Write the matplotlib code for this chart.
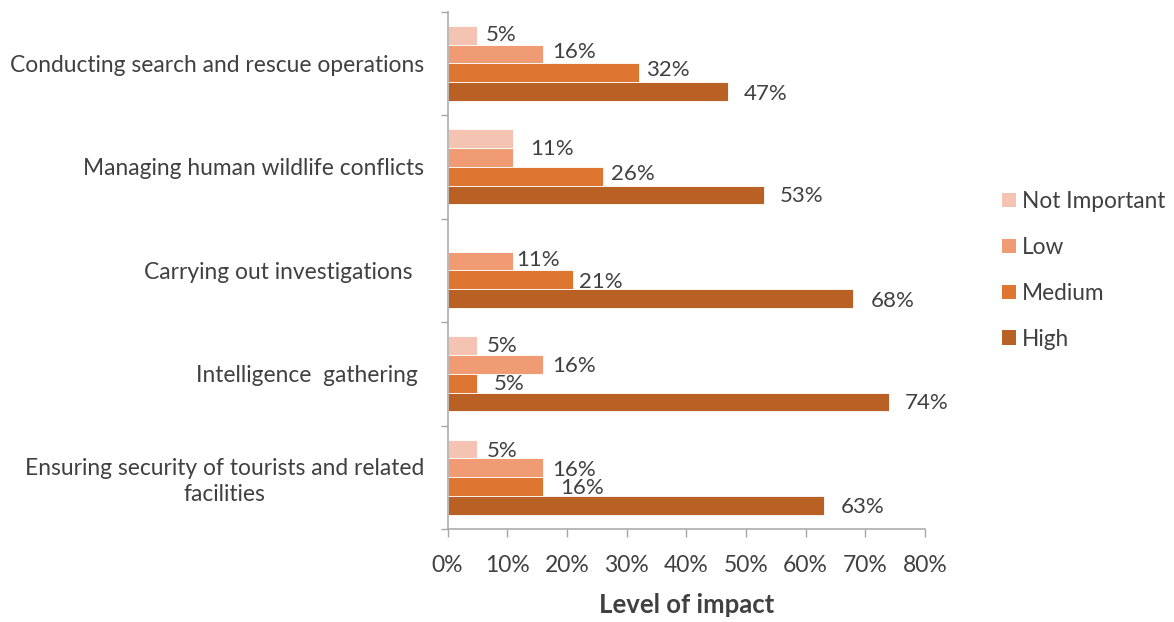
import matplotlib
matplotlib.use("Agg")
import matplotlib.pyplot as plt
from matplotlib.patches import Patch
import numpy as np

plt.rcParams['font.family'] = ['Lato', 'DejaVu Sans']

# ---- data ----
activities = [
    "Conducting search and rescue operations",
    "Managing human wildlife conflicts",
    "Carrying out investigations  ",
    "Intelligence  gathering ",
    "Ensuring security of tourists and related\nfacilities",
]
levels = ["Not Important", "Low", "Medium", "High"]
not_important = [5, 11, 0, 5, 5]
low = [16, 11, 11, 16, 16]
medium = [32, 26, 21, 5, 16]
high = [47, 53, 68, 74, 63]
x_ticks = [0, 10, 20, 30, 40, 50, 60, 70, 80]
x_title = "Level of impact"

series = [not_important, low, medium, high]

# ---- styling ----
colors = ["#F5C3B1", "#F09B73", "#DE7530", "#B96024"]
text_color = "#404040"
axis_color = "#A6A6A6"

# label nudges in pixels (right, down) per activity / level; None = not drawn
label_dx = [
    [8, 9, 8, 16],
    [None, 17, 8, 16],
    [None, 3, 6, 17],
    [9, 9, 16, 16],
    [9, 9, 17, 17],
]
label_dy = [
    [0, -2, -3, 2],
    [0, -8.5, -2.5, 1],
    [0, -1, 2, 2],
    [0, 2, 1, 1.5],
    [2, 2, 1.5, 1.5],
]

W, H, DPI = 1174, 622, 100
fig = plt.figure(figsize=(W / DPI, H / DPI), dpi=DPI)
ax = fig.add_axes([447.5 / W, 1 - 529 / H, (925 - 447.5) / W, (529 - 11.7) / H])

n_cat = len(activities)
bar_h = 0.1816
ypos = np.arange(n_cat)
px = 72.0 / DPI

for j, (vals, col, name) in enumerate(zip(series, colors, levels)):
    yy = ypos + (j - 1.5) * bar_h
    ax.barh(yy, vals, height=bar_h, color=col, edgecolor="white",
            linewidth=0.6, label=name, zorder=2)
    for i, v in enumerate(vals):
        dx = label_dx[i][j]
        if v == 0 or dx is None:
            continue
        ax.annotate(f"{v}%", xy=(v, yy[i]),
                    xytext=(dx * px, -label_dy[i][j] * px),
                    textcoords="offset points", ha="left", va="center",
                    fontsize=16, color=text_color, zorder=3)

ax.set_xlim(0, 80)
ax.set_ylim(n_cat - 0.5, -0.5)

ax.set_xticks(x_ticks)
ax.set_xticklabels([f"{t}%" for t in x_ticks])
ax.tick_params(axis="x", length=8 * px, width=1.0, color=axis_color,
               pad=13, labelsize=16.5, labelcolor=text_color)

ax.set_yticks(ypos)
ax.set_yticklabels(activities, ha="right", multialignment="center",
                   linespacing=1.25)
ax.set_yticks(np.arange(n_cat + 1) - 0.5, minor=True)
ax.tick_params(axis="y", which="major", length=0, pad=17,
               labelsize=16.4, labelcolor=text_color)
ax.tick_params(axis="y", which="minor", length=7 * px, width=1.0,
               color=axis_color)

for side in ("top", "right"):
    ax.spines[side].set_visible(False)
for side in ("left", "bottom"):
    ax.spines[side].set_color(axis_color)
    ax.spines[side].set_linewidth(1.1)

ax.set_xlabel(x_title, fontsize=18.5, fontweight="bold", color=text_color,
              labelpad=12)

handles = [Patch(facecolor=c, edgecolor="none") for c in colors]
fig.legend(handles, levels, loc="upper left",
           bbox_to_anchor=(1002 / W, 1 - 191 / H), frameon=False,
           borderaxespad=0, borderpad=0, fontsize=16.3,
           handlelength=0.62, handleheight=0.62, handletextpad=0.28,
           labelspacing=1.1, labelcolor=text_color)

fig.savefig("out.png", dpi=DPI)
